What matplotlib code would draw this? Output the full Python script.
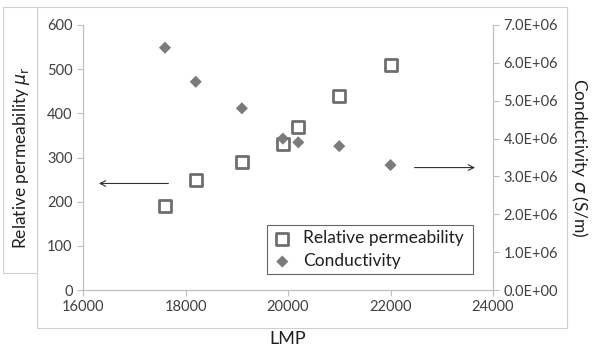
import matplotlib
matplotlib.use("Agg")
import matplotlib.pyplot as plt
from matplotlib.patches import Rectangle

plt.rcParams['font.family'] = ['Lato', 'DejaVu Sans']
plt.rcParams['mathtext.fontset'] = 'dejavusans'

lmp = [17600, 18200, 19100, 19900, 20200, 21000, 22000]
permeability = [190, 250, 290, 330, 370, 440, 510]
conductivity = [6.4e6, 5.5e6, 4.8e6, 4.0e6, 3.9e6, 3.8e6, 3.3e6]

x_ticks = [16000, 18000, 20000, 22000, 24000]
y_ticks = [0, 100, 200, 300, 400, 500, 600]
y2_ticks = [0, 1e6, 2e6, 3e6, 4e6, 5e6, 6e6, 7e6]
y2_labels = ['0.0E+00', '1.0E+06', '2.0E+06', '3.0E+06', '4.0E+06', '5.0E+06', '6.0E+06', '7.0E+06']

W, H = 595, 346
fig = plt.figure(figsize=(W / 100, H / 100), dpi=100)

# outer chart frame
fig.patches.append(Rectangle((37 / W, (H - 328) / H), 530 / W, 321 / H, transform=fig.transFigure,
                             fill=False, edgecolor='#d0d0d0', linewidth=0.8, zorder=-2))
# y-label box
fig.patches.append(Rectangle((3 / W, (H - 273) / H), 34 / W, 266 / H, transform=fig.transFigure,
                             facecolor='white', edgecolor='#d0d0d0', linewidth=0.8, zorder=-1))

ax = fig.add_axes([83 / W, (H - 290) / H, 410 / W, 265 / H])
ax.patch.set_alpha(0)
ax2 = ax.twinx()
ax2.patch.set_alpha(0)

gray = '#bfbfbf'
tc = '#404040'

h1 = ax.scatter(lmp, permeability, marker='s', s=70, facecolors='white', edgecolors='#6e6e6e',
                linewidths=2.0, zorder=3, label='Relative permeability')
h2 = ax2.scatter(lmp, conductivity, marker='D', s=38, color='#7b7b7b', edgecolors='none',
                 zorder=3, label='Conductivity')

ax.set_xlim(16000, 24000)
ax.set_ylim(0, 600)
ax2.set_ylim(0, 7e6)
ax.set_xticks(x_ticks)
ax.set_yticks(y_ticks)
ax2.set_yticks(y2_ticks)
ax2.set_yticklabels(y2_labels)

for a in (ax, ax2):
    for s in a.spines.values():
        s.set_color(gray)
        s.set_linewidth(0.8)
    a.spines['top'].set_visible(False)
    a.tick_params(colors=gray, labelcolor=tc, labelsize=10.5, length=4, width=0.8)

ax.set_xlabel('LMP', fontsize=13, color='#202020', labelpad=12)
ax.set_ylabel(r'Relative permeability $\mu_{\mathrm{r}}$', fontsize=12.5, color='#202020')
ax.yaxis.set_label_coords(-(83 - 32) / 410, 0.5)
ax2.set_ylabel(r'Conductivity $\sigma$ (S/m)', fontsize=12.5, color='#202020', rotation=-90)
ax2.yaxis.set_label_coords((590 - 83) / 410, 0.5)

# arrows
ax.annotate('', xy=(0.032, 0.402), xytext=(0.215, 0.402), xycoords='axes fraction',
            arrowprops=dict(arrowstyle='->', color='#303030', lw=0.8))
ax.annotate('', xy=(0.963, 0.462), xytext=(0.802, 0.462), xycoords='axes fraction',
            arrowprops=dict(arrowstyle='->', color='#303030', lw=0.8))

leg = ax2.legend(handles=[h1, h2], loc='lower left',
                 bbox_to_anchor=((258 - 83) / 410, (290 - 283) / 265, (482 - 258) / 410, (283 - 225) / 265),
                 mode='expand', fontsize=12.5, frameon=True, fancybox=False, handletextpad=0.6,
                 borderpad=0.3, labelspacing=0.4, handlelength=1.2)
leg.get_frame().set_edgecolor('#404040')
leg.get_frame().set_linewidth(0.8)
for t in leg.get_texts():
    t.set_color('#202020')

fig.savefig('out.png', dpi=100)
